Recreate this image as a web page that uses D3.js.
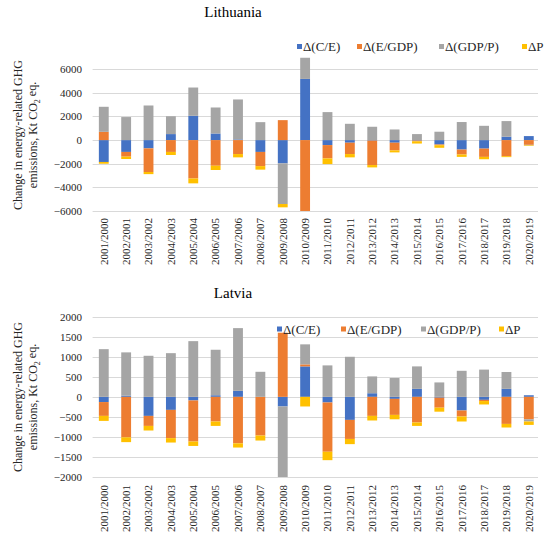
<!DOCTYPE html>
<html>
<head>
<meta charset="utf-8">
<script src="https://cdn.jsdelivr.net/npm/d3@7"></script>
<style>
  body { margin: 0; background: #fff; }
  svg text { font-family: 'Liberation Serif', 'Times New Roman', serif; }
</style>
</head>
<body>
<div id="chart"></div>
<script>
let years = ['2001/2000', '2002/2001', '2003/2002', '2004/2003', '2005/2004', '2006/2005',
  '2007/2006', '2008/2007', '2009/2008', '2010/2009', '2011/2010', '2012/2011', '2013/2012',
  '2014/2013', '2015/2014', '2016/2015', '2017/2016', '2018/2017', '2019/2018', '2020/2019'];

let seriesNames = ['Δ(C/E)', 'Δ(E/GDP)', 'Δ(GDP/P)', 'ΔP'];
let seriesColors = ['#4472C4', '#ED7D31', '#A5A5A5', '#FFC000'];

// Lithuania, kt CO2 eq.
let ltCE = [-1850, -1000, -700, 510, 2060, 560, 60, -1000, -1970, 5180,
  -420, -220, -40, -220, -40, -370, -800, -720, 290, 340];
let ltEGDP = [700, -400, -2000, -1000, -3250, -2170, -1180, -1200, 1690, -6200,
  -1130, -960, -2070, -650, -60, -60, -420, -700, -1360, -400];
let ltGDPP = [2120, 1950, 2930, 1510, 2390, 2200, 3380, 1520, -3440, 1810,
  2370, 1380, 1130, 900, 510, 710, 1530, 1210, 1320, -40];
let ltP = [-150, -200, -180, -260, -410, -360, -280, -300, -280, -300,
  -480, -280, -200, -170, -190, -220, -200, -200, -80, -50];

// Latvia, kt CO2 eq.
let lvCE = [-130, 30, -475, -325, -90, 40, 150, 0, -240, 760,
  -140, -575, 90, -50, 200, -20, -340, -75, 200, 40];
let lvEGDP = [-345, -1010, -250, -705, -1025, -615, -1160, -965, 1600, 50,
  -1230, -475, -475, -400, -640, -250, -150, -30, -675, -560];
let lvGDPP = [1190, 1080, 1025, 1090, 1390, 1135, 1565, 625, -2500, 500,
  785, 1000, 420, 470, 560, 360, 650, 680, 420, -55];
let lvP = [-125, -120, -115, -110, -110, -110, -105, -125, -150, -240,
  -210, -130, -115, -110, -85, -100, -125, -85, -90, -85];

let ltTicks = [-6000, -4000, -2000, 0, 2000, 4000, 6000];
let lvTicks = [-2000, -1500, -1000, -500, 0, 500, 1000, 1500, 2000];

(function () {
  let width = 550,
    height = 546;

  let svg = d3.select('#chart').append('svg')
    .attr('width', width)
    .attr('height', height);

  let keys = ['ce', 'egdp', 'gdpp', 'p'];

  let x = d3.scaleBand()
    .domain(years)
    .range([92.6, 540])
    .paddingInner(0.56)
    .paddingOuter(0.28);

  function drawPanel(cfg, idx) {
    let rows = years.map((yr, i) => ({
      year: yr, ce: cfg.values[0][i], egdp: cfg.values[1][i], gdpp: cfg.values[2][i], p: cfg.values[3][i]
    }));

    let y = d3.scaleLinear()
      .domain(cfg.domain)
      .range(cfg.yRange);

    let g = svg.append('g');

    g.append('text')
      .attr('x', 233)
      .attr('y', cfg.titleY)
      .attr('text-anchor', 'middle')
      .attr('fill', '#000')
      .style('font-size', '15px')
      .text(cfg.title);

    // grid
    g.append('g').selectAll('line.grid')
      .data(cfg.ticks).enter()
      .append('line')
      .attr('class', 'grid')
      .attr('x1', 92.6)
      .attr('x2', 538)
      .attr('y1', (d) => Math.round(y(d)) + 0.5)
      .attr('y2', (d) => Math.round(y(d)) + 0.5)
      .attr('stroke', '#D9D9D9')
      .attr('stroke-width', 1);

    g.append('g').selectAll('text.ytick')
      .data(cfg.ticks).enter()
      .append('text')
      .attr('class', 'ytick')
      .attr('x', 82)
      .attr('y', (d) => y(d))
      .attr('dy', '0.35em')
      .attr('text-anchor', 'end')
      .attr('fill', '#262626')
      .style('font-size', '11px')
      .text((d) => d < 0 ? '\u2212' + Math.abs(d) : d);

    let clipId = 'clip' + idx;
    g.append('clipPath')
      .attr('id', clipId)
      .append('rect')
      .attr('x', 80)
      .attr('width', 470)
      .attr('y', cfg.yRange[1])
      .attr('height', cfg.yRange[0] - cfg.yRange[1]);

    let stacked = d3.stack().keys(keys).offset(d3.stackOffsetDiverging)(rows);

    g.append('g')
      .attr('clip-path', 'url(#' + clipId + ')')
      .selectAll('g.series')
      .data(stacked).enter()
      .append('g')
      .attr('class', 'series')
      .attr('fill', (d, i) => seriesColors[i])
      .selectAll('rect')
      .data((d) => d).enter()
      .append('rect')
      .attr('x', (d) => x(d.data.year))
      .attr('width', x.bandwidth())
      .attr('y', (d) => y(Math.max(d[0], d[1])))
      .attr('height', (d) => Math.abs(y(d[0]) - y(d[1])));

    g.append('g').selectAll('text.xlabel')
      .data(years).enter()
      .append('text')
      .attr('class', 'xlabel')
      .attr('transform', (d) => 'translate(' + (x(d) + x.bandwidth() / 2) + ',' + cfg.labelTop + ') rotate(-90)')
      .attr('dy', '0.35em')
      .attr('text-anchor', 'end')
      .attr('fill', '#262626')
      .style('font-size', '11px')
      .text((d) => d);

    // y axis title
    let yt = g.append('text')
      .attr('transform', 'translate(18,' + cfg.axisTitleY + ') rotate(-90)')
      .attr('text-anchor', 'middle')
      .attr('fill', '#262626')
      .style('font-size', '12px');
    yt.append('tspan')
      .attr('x', 0)
      .attr('dy', '0.35em')
      .text('Change in energy-related GHG');
    let l2 = yt.append('tspan')
      .attr('x', 0)
      .attr('dy', '1.25em')
      .text('emissions, Kt CO');
    yt.append('tspan')
      .attr('dy', '0.3em')
      .style('font-size', '8px')
      .text('2');
    yt.append('tspan')
      .attr('dy', '-0.3em')
      .text(' eq.');

    // legend
    let leg = g.append('g').selectAll('g.legend')
      .data(seriesNames).enter()
      .append('g')
      .attr('class', 'legend')
      .attr('transform', (d, i) => 'translate(' + cfg.legendX[i] + ',' + cfg.legendY + ')');
    leg.append('rect')
      .attr('x', 0)
      .attr('y', -2.5)
      .attr('width', 5)
      .attr('height', 5)
      .attr('fill', (d, i) => seriesColors[i]);
    leg.append('text')
      .attr('x', 6)
      .attr('dy', '0.35em')
      .attr('fill', '#262626')
      .style('font-size', '13px')
      .text((d) => d);
  }

  let panels = [
    {
      title: 'Lithuania', titleY: 17,
      values: [ltCE, ltEGDP, ltGDPP, ltP],
      domain: [-6000, 7000], yRange: [211, 57.4], ticks: ltTicks,
      labelTop: 218, axisTitleY: 135,
      legendX: [297, 357, 439, 522], legendY: 46.5
    },
    {
      title: 'Latvia', titleY: 298,
      values: [lvCE, lvEGDP, lvGDPP, lvP],
      domain: [-2000, 2000], yRange: [477, 316.7], ticks: lvTicks,
      labelTop: 485, axisTitleY: 397,
      legendX: [277, 341, 421, 499], legendY: 329
    }
  ];

  panels.forEach((p, i) => drawPanel(p, i));
})();
</script>
</body>
</html>
